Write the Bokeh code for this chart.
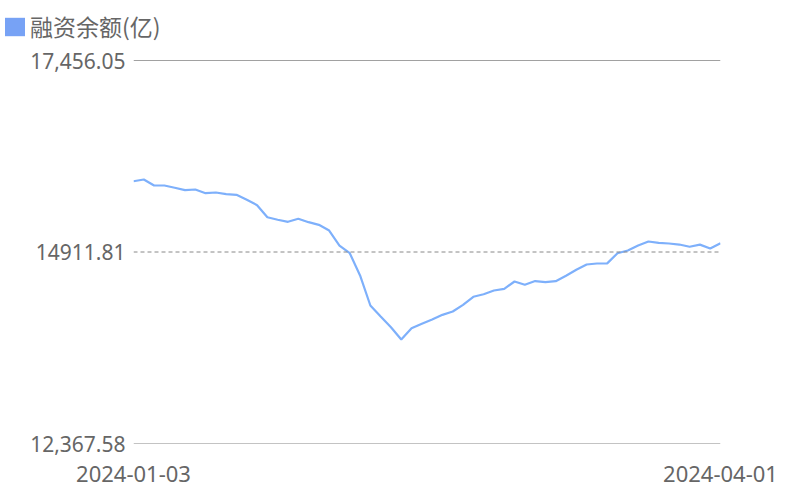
from bokeh.plotting import figure
from bokeh.layouts import column
from bokeh.models import (Range1d, FixedTicker, Span, Legend, LegendItem, ColumnDataSource)
from bokeh.embed import file_html
from bokeh.resources import INLINE

dates = [
    "2024-01-03", "2024-01-04", "2024-01-05", "2024-01-08", "2024-01-09", "2024-01-10",
    "2024-01-11", "2024-01-12", "2024-01-15", "2024-01-16", "2024-01-17", "2024-01-18",
    "2024-01-19", "2024-01-22", "2024-01-23", "2024-01-24", "2024-01-25", "2024-01-26",
    "2024-01-29", "2024-01-30", "2024-01-31", "2024-02-01", "2024-02-02", "2024-02-05",
    "2024-02-06", "2024-02-07", "2024-02-08", "2024-02-19", "2024-02-20", "2024-02-21",
    "2024-02-22", "2024-02-23", "2024-02-26", "2024-02-27", "2024-02-28", "2024-02-29",
    "2024-03-01", "2024-03-04", "2024-03-05", "2024-03-06", "2024-03-07", "2024-03-08",
    "2024-03-11", "2024-03-12", "2024-03-13", "2024-03-14", "2024-03-15", "2024-03-18",
    "2024-03-19", "2024-03-20", "2024-03-21", "2024-03-22", "2024-03-25", "2024-03-26",
    "2024-03-27", "2024-03-28", "2024-03-29", "2024-04-01",
]
margin_balance = [
    15852, 15875, 15795, 15795, 15765, 15733, 15742, 15693, 15702, 15680,
    15672, 15605, 15534, 15374, 15340, 15313, 15353, 15308, 15273, 15197,
    14998, 14896, 14600, 14201, 14055, 13913, 13749, 13899, 13958, 14015,
    14077, 14121, 14210, 14317, 14351, 14400, 14423, 14520, 14476, 14526,
    14511, 14524, 14596, 14675, 14746, 14759, 14761, 14896, 14932, 14998,
    15051, 15034, 15025, 15011, 14981, 15010, 14958, 15029,
]
y_ticks = [12367.58, 14911.81, 17456.05]
y_tick_labels = ["12,367.58", "14911.81", "17,456.05"]
series_name = "融资余额(亿)"

idx = list(range(len(dates)))
src = ColumnDataSource(dict(x=idx, y=margin_balance, d=dates))

# ---- legend strip on top ----
top = figure(width=800, height=44, output_backend="svg", toolbar_location=None,
             x_range=Range1d(0, 1), y_range=Range1d(0, 1),
             min_border_left=0, min_border_right=0, min_border_top=0, min_border_bottom=0)
top.frame_align = False
top.axis.visible = False
top.grid.visible = False
top.outline_line_color = None
# swatch renderer for the legend entry (kept outside the visible range)
swatch = top.quad(left=[-3], right=[-2], top=[-2], bottom=[-3],
                  fill_color="#77a2f5", line_color=None)
legend = Legend(items=[LegendItem(label=series_name, renderers=[swatch])],
                location=(2, 1), padding=0, margin=0, spacing=0,
                border_line_color=None, background_fill_alpha=0,
                glyph_width=25, glyph_height=23, label_standoff=3, label_height=23,
                label_text_font="Noto Sans CJK SC", label_text_font_size="23px",
                label_text_color="#666666")
top.add_layout(legend, "center")

# ---- main chart ----
p = figure(width=800, height=456, output_backend="svg", toolbar_location=None,
           x_range=Range1d(0, len(dates) - 1), y_range=Range1d(y_ticks[0], y_ticks[-1]),
           min_border_left=133, min_border_right=80, min_border_top=16, min_border_bottom=57)
p.frame_align = False
p.outline_line_color = None
p.grid.visible = False

for ax in (p.xaxis[0], p.yaxis[0]):
    ax.axis_line_color = None
    ax.major_tick_line_color = None
    ax.minor_tick_line_color = None
    ax.major_tick_in = 0
    ax.major_tick_out = 0
    ax.minor_tick_in = 0
    ax.minor_tick_out = 0
    ax.major_label_text_color = "#666666"
    ax.major_label_text_font = "Noto Sans"
    ax.major_label_text_font_size = "21px"

p.yaxis.ticker = FixedTicker(ticks=y_ticks)
p.yaxis.major_label_overrides = {t: s for t, s in zip(y_ticks, y_tick_labels)}
p.yaxis.major_label_standoff = 8

x_ticks = [0, len(dates) - 1]
p.xaxis.ticker = FixedTicker(ticks=x_ticks)
p.xaxis.major_label_overrides = {t: dates[t] for t in x_ticks}
p.xaxis.major_label_standoff = 22
p.xaxis.major_label_text_font_size = "22px"

p.add_layout(Span(location=y_ticks[-1], dimension="width", line_color="#444444", line_width=1))
p.add_layout(Span(location=y_ticks[0], dimension="width", line_color="#888888", line_width=1))
p.add_layout(Span(location=y_ticks[1], dimension="width", line_color="#888888", line_width=1,
                  line_dash="4 3"))

p.line("x", "y", source=src, line_color="#7eb0fb", line_width=2.2)

layout = column(top, p, spacing=0)
open("out.html", "w").write(file_html(layout, INLINE))
